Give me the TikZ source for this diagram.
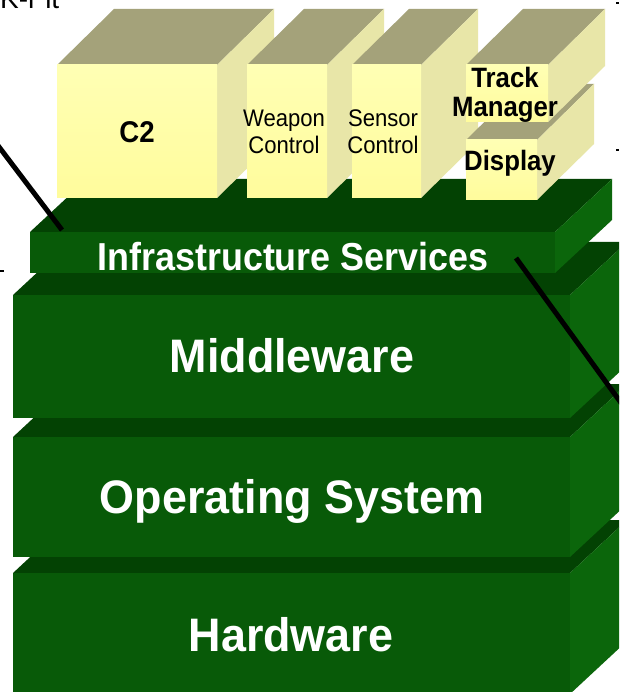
\documentclass[tikz,border=0pt]{standalone}
\usepackage{fontspec}
\setmainfont{Liberation Sans}
\newfontfamily\condfont[FakeStretch=0.92]{Liberation Sans}
\newfontfamily\layerfont[FakeStretch=0.955]{Liberation Sans}
\definecolor{gfrontc}{HTML}{085A08}
\definecolor{gtopc}{HTML}{034203}
\definecolor{gsidec}{HTML}{0B660B}
\definecolor{yfrontt}{HTML}{FFFFB4}
\definecolor{yfrontb}{HTML}{FFFC9C}
\definecolor{ytopc}{HTML}{A4A27A}
\definecolor{ysidec}{HTML}{E8E6A8}
% #1 x1, #2 x2, #3 ytop, #4 ybot, #5 dx, #6 dy, #7 front, #8 top, #9 side
\newcommand{\mybox}[9]{%
  \fill[#8] (#1,#3) -- (#2,#3) -- ++(#5,#6) -- ++({#1-#2},0) -- cycle;
  \fill[#9] (#2,#3) -- ++(#5,#6) -- ++(0,{#4-#3}) -- (#2,#4) -- cycle;
  \fill[#7] (#1,#3) rectangle (#2,#4);
}
\tikzset{
  gfr/.style={fill=gfrontc},
  gtp/.style={fill=gtopc},
  gsd/.style={fill=gsidec},
  yfr/.style={top color=yfrontt, bottom color=yfrontb},
  ytp/.style={fill=ytopc},
  ysd/.style={fill=ysidec},
  glabel/.style={text=white, inner sep=0pt, anchor=base,
    font=\layerfont\bfseries\fontsize{47}{52}\selectfont},
  ilabel/.style={glabel, font=\condfont\bfseries\fontsize{39}{42}\selectfont},
  ybold/.style={text=black, inner sep=0pt, anchor=base,
    font=\condfont\bfseries\fontsize{28}{32}\selectfont},
  yreg/.style={text=black, inner sep=0pt, anchor=base,
    font=\condfont\fontsize{24}{28}\selectfont},
  callout/.style={line width=5pt, black},
  tick/.style={line width=1.2pt, black}
}
\begin{document}
\begin{tikzpicture}[x=1pt,y=-1pt]
\path[use as bounding box] (0,0) rectangle (619,692);
\clip (0,0) rectangle (619,692);
\fill[white] (0,0) rectangle (619,692);

% green layers (bottom first)
\mybox{13}{570}{573}{694}{57}{-53}{gfr}{gtp}{gsd}
\mybox{13}{570}{437}{557}{57}{-53}{gfr}{gtp}{gsd}
\mybox{13}{570}{295}{418}{57}{-53}{gfr}{gtp}{gsd}
\mybox{30}{555}{232}{273}{57}{-53}{gfr}{gtp}{gsd}

% yellow application blocks
\mybox{57}{217}{65}{198}{57}{-56}{yfr}{ytp}{ysd}
\mybox{247}{327}{65}{198}{57}{-56}{yfr}{ytp}{ysd}
\mybox{352}{421}{65}{198}{57}{-56}{yfr}{ytp}{ysd}
\mybox{466}{537}{140}{200}{57}{-56}{yfr}{ytp}{ysd}
\mybox{466}{548}{65}{122}{57}{-56}{yfr}{ytp}{ysd}

% labels
\node[ilabel] (infra) at (293,270) {Infrastructure Services};
\node[glabel] (mid) at (292,372) {Middleware};
\node[glabel] (os) at (292,513) {Operating System};
\node[glabel] (hw) at (291,651) {Hardware};

\node[ybold, font=\condfont\bfseries\fontsize{30}{33}\selectfont] (c2) at (137,143) {C2};
\node[yreg] (weaponA) at (284,127) {Weapon};
\node[yreg] (weaponB) at (284,154) {Control};
\node[yreg] (sensorA) at (383,127) {Sensor};
\node[yreg] (sensorB) at (383,154) {Control};
\node[ybold] (trackA) at (505,88) {Track};
\node[ybold] (trackB) at (505,117) {Manager};
\node[ybold] (display) at (510,171) {Display};

% cut-off fragments at the edges
\node[anchor=base west, inner sep=0pt, font=\fontsize{28}{30}\selectfont] (frag) at (0,9) {K-r it};
\draw[tick] (0,271) -- (4,271);
\draw[tick] (616,3) -- (619,3);
\draw[tick] (616,150) -- (619,150);

% callout lines
\coordinate (l1a) at (-10,135);
\coordinate (l1b) at (62,230);
\coordinate (l2a) at (516,258);
\coordinate (l2b) at (640,429);
\draw[callout] (l1a) -- (l1b);
\draw[callout] (l2a) -- (l2b);
\end{tikzpicture}
\end{document}
